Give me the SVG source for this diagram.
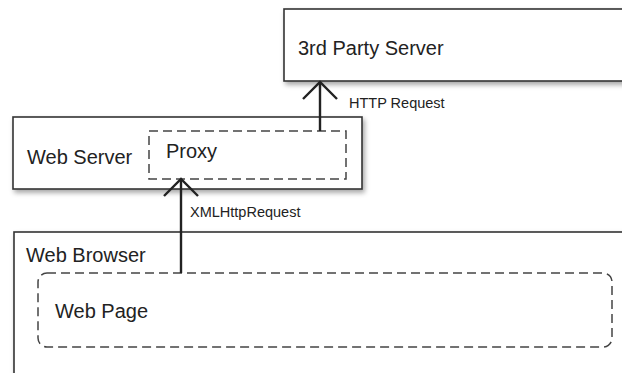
<svg xmlns="http://www.w3.org/2000/svg" width="622" height="373" viewBox="0 0 622 373">
<style>
.box{fill:#fff;stroke:#333;stroke-width:1.6}
.dash{fill:#fff;stroke:#444;stroke-width:1.5;stroke-dasharray:9 5}
.lbl{font-family:"Liberation Sans",Arial,sans-serif;font-size:20px;fill:#222}
.sm{font-family:"Liberation Sans",Arial,sans-serif;font-size:14.5px;fill:#222}
.conn{fill:none;stroke:#222;stroke-width:2.4}
</style>
<defs>
<filter id="sh" x="-10%" y="-20%" width="130%" height="150%">
<feDropShadow dx="2" dy="3" stdDeviation="2.5" flood-color="#000" flood-opacity="0.35"/>
</filter>
</defs>
<rect width="622" height="373" fill="#fff"/>
<g id="third-party-server">
<rect class="box" x="284" y="9" width="350" height="72" filter="url(#sh)"/>
<text class="lbl" x="298" y="55">3rd Party Server</text>
</g>
<g id="web-server">
<rect class="box" x="13" y="117" width="349" height="72" filter="url(#sh)"/>
<text class="lbl" x="27" y="164">Web Server</text>
</g>
<g id="proxy">
<rect class="dash" x="149" y="131" width="197" height="48"/>
<text class="lbl" x="166" y="158">Proxy</text>
</g>
<g id="web-browser">
<rect class="box" x="14" y="232" width="620" height="160" filter="url(#sh)"/>
<text class="lbl" x="26" y="262">Web Browser</text>
</g>
<g id="web-page">
<rect class="dash" x="38" y="273" width="574" height="74" rx="9" ry="9"/>
<text class="lbl" x="55" y="318">Web Page</text>
</g>
<g id="connectors">
<line class="conn" x1="320" y1="131" x2="320" y2="83"/>
<polyline class="conn" points="303,99 320,82 337,99"/>
<text class="sm" x="349" y="108">HTTP Request</text>
<line class="conn" x1="181" y1="273" x2="181" y2="180"/>
<polyline class="conn" points="164,196 181,179 198,196"/>
<text class="sm" x="190" y="217">XMLHttpRequest</text>
</g>
</svg>
